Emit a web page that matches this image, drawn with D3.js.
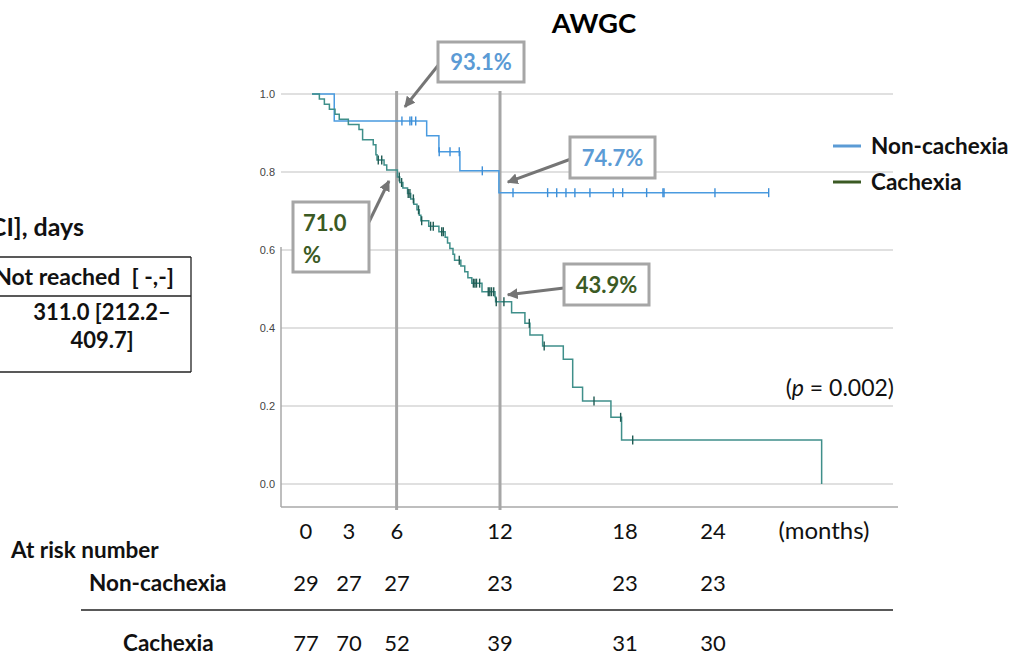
<!DOCTYPE html>
<html>
<head>
<meta charset="utf-8">
<script src="https://cdn.jsdelivr.net/npm/d3@7"></script>
<style>
  body { margin: 0; background: #fff; }
  svg { display: block; font-family: Lato, "Open Sans", sans-serif; }
</style>
</head>
<body>
<div id="wrapper"></div>
<script>
// survival curves, time in months, [time, survival after the drop]
const nonCachexiaSteps = [[0, 1.0], [1.42, 0.931], [7.32, 0.893], [8.1, 0.852], [9.44, 0.803], [11.93, 0.747]];
const nonCachexiaEnd = 29.15;
const nonCachexiaCensor = [5.74, 6.25, 6.36, 6.62, 8.12, 8.81, 9.4, 10.87, 12.83, 15.04, 15.62, 16.21, 16.78, 17.74, 19.23, 19.83, 21.36, 22.4, 22.47, 25.72, 29.15];

const cachexiaSteps = [[0, 1.0], [0.47, 0.987], [0.79, 0.974], [1.11, 0.961], [1.47, 0.948], [1.74, 0.935], [2.32, 0.922], [3.0, 0.909], [3.23, 0.883], [3.91, 0.870], [4.08, 0.844], [4.15, 0.831], [4.6, 0.818], [4.77, 0.805],
  [5.45, 0.787], [5.6, 0.773], [5.8, 0.759], [6.1, 0.745], [6.3, 0.731], [6.5, 0.717], [6.7, 0.703], [6.85, 0.689], [6.95, 0.675], [7.45, 0.661], [8.1, 0.647], [8.5, 0.633], [8.65, 0.618], [8.8, 0.604], [9.0, 0.589], [9.1, 0.574],
  [9.5, 0.559], [9.75, 0.544], [9.95, 0.529], [10.2, 0.515], [10.85, 0.493], [11.68, 0.480], [11.72, 0.467], [12.74, 0.439], [13.59, 0.412], [13.91, 0.382], [14.72, 0.354], [16.04, 0.32], [16.64, 0.248], [17.27, 0.213], [19.08, 0.171], [19.76, 0.113], [32.53, 0.0]];
const cachexiaEnd = 32.53;
const cachexiaCensor = [4.23, 4.45, 5.57, 5.72, 6.14, 6.25, 6.47, 6.8, 7.0, 7.57, 7.74, 8.28, 8.38, 9.4, 10.3, 10.4, 10.5, 10.7, 11.25, 11.35, 11.46, 11.6, 11.76, 12.25, 13.87, 14.82, 18.0, 19.7, 20.47];

const yTicks = [0, 0.2, 0.4, 0.6, 0.8, 1.0];
const guideMonths = [5.4, 12];

const annotations = [
  { text: ["93.1%"], color: "#5b9bd5", tip: [5.93, 0.967] },
  { text: ["74.7%"], color: "#5b9bd5", tip: [12.5, 0.774] },
  { text: ["71.0", "%"], color: "#3b5a24", tip: [4.91, 0.777] },
  { text: ["43.9%"], color: "#3b5a24", tip: [12.5, 0.485] }
];

const legendNames = ["Non-cachexia", "Cachexia"];
const legendColors = ["#5b9bd5", "#3b5a24"];

const riskMonths = [0, 3, 6, 12, 18, 24];
const riskNonCachexia = [29, 27, 27, 23, 23, 23];
const riskCachexia = [77, 70, 52, 39, 31, 30];

const medianRows = [["Not reached\u00a0\u00a0[ -,-]"], ["311.0 [212.2–", "409.7]"]];

// layout
const W = 1021, H = 657;
const boxes = [
  { x: 438, y: 42, w: 86, h: 40, from: [440, 63] },
  { x: 570, y: 137, w: 85, h: 41, from: [571, 159] },
  { x: 293, y: 202, w: 76, h: 70, from: [369, 222] },
  { x: 564, y: 264, w: 85, h: 41, from: [564, 288] }
];
const riskColX = [306, 349, 397, 500, 625, 713];

const svg = d3.select("#wrapper").append("svg")
  .attr("width", W).attr("height", H);
svg.append("rect").attr("width", W).attr("height", H).attr("fill", "#fff");

const x = d3.scaleLinear().domain([0, 36]).range([312, 312 + 36 * 15.667]);
const y = d3.scaleLinear().domain([0, 1]).range([484, 94]);

// gridlines
svg.append("g").selectAll("line").data(yTicks).join("line")
  .attr("x1", 281).attr("x2", 893)
  .attr("y1", d => y(d)).attr("y2", d => y(d))
  .attr("stroke", "#d6d6d6").attr("stroke-width", 1.6);

svg.append("g").selectAll("text").data(yTicks).join("text")
  .attr("x", 275).attr("y", d => y(d) + 4)
  .attr("text-anchor", "end")
  .attr("font-family", "Liberation Sans, Arial, sans-serif")
  .attr("font-size", 11).attr("fill", "#444")
  .text(d => d.toFixed(1));

// frame
svg.append("line").attr("x1", 281).attr("x2", 281).attr("y1", 247).attr("y2", 507)
  .attr("stroke", "#a8a8a8").attr("stroke-width", 1.5);
svg.append("line").attr("x1", 281).attr("x2", 898).attr("y1", 507).attr("y2", 507)
  .attr("stroke", "#a8a8a8").attr("stroke-width", 1.5);

// guide lines
svg.append("g").selectAll("line").data(guideMonths).join("line")
  .attr("x1", d => x(d)).attr("x2", d => x(d))
  .attr("y1", 91).attr("y2", 510)
  .attr("stroke", "#a6a6a6").attr("stroke-width", 3);

function stepValue(steps, t) {
  let v = steps[0][1];
  for (const s of steps) if (s[0] <= t) v = s[1];
  return v;
}

function drawCurve(steps, end, censor, color, markColor) {
  const pts = steps.slice();
  if (pts[pts.length - 1][0] < end) pts.push([end, pts[pts.length - 1][1]]);
  const line = d3.line().curve(d3.curveStepAfter)
    .x(d => x(d[0])).y(d => y(d[1]));
  svg.append("path").attr("d", line(pts))
    .attr("fill", "none").attr("stroke", color).attr("stroke-width", 1.5);
  svg.append("g").selectAll("line").data(censor).join("line")
    .attr("x1", d => x(d)).attr("x2", d => x(d))
    .attr("y1", d => y(stepValue(steps, d)) - 4.5)
    .attr("y2", d => y(stepValue(steps, d)) + 4.5)
    .attr("stroke", markColor).attr("stroke-width", 1.4);
}

drawCurve(nonCachexiaSteps, nonCachexiaEnd, nonCachexiaCensor, "#4a9be0", "#3d8fd8");
drawCurve(cachexiaSteps, cachexiaEnd, cachexiaCensor, "#3f8f8a", "#1f5a52");

// title
svg.append("text").attr("x", 594).attr("y", 33).attr("text-anchor", "middle")
  .attr("font-weight", "bold").attr("font-size", 27.5).text("AWGC");

// annotations
svg.append("defs").append("marker")
  .attr("id", "arrow").attr("viewBox", "0 0 10 10")
  .attr("refX", 9).attr("refY", 5)
  .attr("markerWidth", 11).attr("markerHeight", 11)
  .attr("markerUnits", "userSpaceOnUse")
  .attr("orient", "auto")
  .append("path").attr("d", "M0,0 L10,5 L0,10 z").attr("fill", "#757575");

annotations.forEach((a, i) => {
  const b = boxes[i];
  svg.append("line")
    .attr("x1", b.from[0]).attr("y1", b.from[1])
    .attr("x2", x(a.tip[0])).attr("y2", y(a.tip[1]))
    .attr("stroke", "#757575").attr("stroke-width", 3)
    .attr("marker-end", "url(#arrow)");
  svg.append("rect").attr("x", b.x).attr("y", b.y).attr("width", b.w).attr("height", b.h)
    .attr("fill", "#fff").attr("stroke", "#a6a6a6").attr("stroke-width", 3);
  if (a.text.length === 1) {
    svg.append("text").attr("x", b.x + b.w / 2).attr("y", b.y + b.h / 2 + 8)
      .attr("text-anchor", "middle").attr("font-weight", "bold").attr("font-size", 22)
      .attr("fill", a.color).text(a.text[0]);
  } else {
    a.text.forEach((t, j) => {
      svg.append("text").attr("x", b.x + 10).attr("y", b.y + 29 + j * 32)
        .attr("font-weight", "bold").attr("font-size", 22)
        .attr("fill", a.color).text(t);
    });
  }
});

// legend
legendNames.forEach((n, i) => {
  const ly = 146 + i * 36;
  svg.append("line").attr("x1", 833).attr("x2", 861).attr("y1", ly).attr("y2", ly)
    .attr("stroke", legendColors[i]).attr("stroke-width", 3);
  svg.append("text").attr("x", 871).attr("y", ly + 8)
    .attr("font-weight", "bold").attr("font-size", 22.5).attr("fill", "#111").text(n);
});

// p value
const pt = svg.append("text").attr("x", 894).attr("y", 396).attr("text-anchor", "end")
  .attr("font-size", 23).attr("fill", "#111");
pt.append("tspan").text("(");
pt.append("tspan").attr("font-style", "italic").text("p");
pt.append("tspan").text(" = 0.002)");

// median table (cropped at the left edge)
svg.append("text").attr("x", 84).attr("y", 236).attr("text-anchor", "end")
  .attr("font-weight", "bold").attr("font-size", 25).attr("fill", "#111")
  .text("Median survival time [95% CI], days");
const tbl = svg.append("g").attr("stroke", "#222").attr("stroke-width", 1.3);
tbl.append("line").attr("x1", 0).attr("x2", 191).attr("y1", 257).attr("y2", 257);
tbl.append("line").attr("x1", 0).attr("x2", 191).attr("y1", 296).attr("y2", 296);
tbl.append("line").attr("x1", 0).attr("x2", 191).attr("y1", 372).attr("y2", 372);
tbl.append("line").attr("x1", 191).attr("x2", 191).attr("y1", 257).attr("y2", 372);
svg.append("text").attr("x", 174).attr("y", 285).attr("text-anchor", "end")
  .attr("font-weight", "bold").attr("font-size", 23).attr("fill", "#111").text(medianRows[0][0]);
medianRows[1].forEach((t, j) => {
  svg.append("text").attr("x", 102).attr("y", 320 + j * 28).attr("text-anchor", "middle")
    .attr("font-weight", "bold").attr("font-size", 22).attr("fill", "#111").text(t);
});

// at-risk table
const colX = d3.scaleOrdinal().domain(riskMonths).range(riskColX);
const risk = svg.append("g").attr("font-size", 22).attr("fill", "#111");
risk.selectAll("text.h").data(riskMonths).join("text").attr("class", "h")
  .attr("x", d => colX(d)).attr("y", 539).attr("text-anchor", "middle").text(d => d);
risk.append("text").attr("x", 824).attr("y", 539).attr("text-anchor", "middle")
  .attr("font-size", 24).text("(months)");
risk.selectAll("text.n").data(riskNonCachexia).join("text").attr("class", "n")
  .attr("x", (d, i) => colX(riskMonths[i])).attr("y", 591).attr("text-anchor", "middle").text(d => d);
risk.selectAll("text.c").data(riskCachexia).join("text").attr("class", "c")
  .attr("x", (d, i) => colX(riskMonths[i])).attr("y", 651).attr("text-anchor", "middle").text(d => d);

const rl = svg.append("g").attr("font-weight", "bold").attr("font-size", 22.5).attr("fill", "#111");
rl.append("text").attr("x", 11).attr("y", 558).text("At risk number");
rl.append("text").attr("x", 89).attr("y", 591).text("Non-cachexia");
rl.append("text").attr("x", 123).attr("y", 651).text("Cachexia");
svg.append("line").attr("x1", 81).attr("x2", 893).attr("y1", 610).attr("y2", 610)
  .attr("stroke", "#222").attr("stroke-width", 1.3);
</script>
</body>
</html>
